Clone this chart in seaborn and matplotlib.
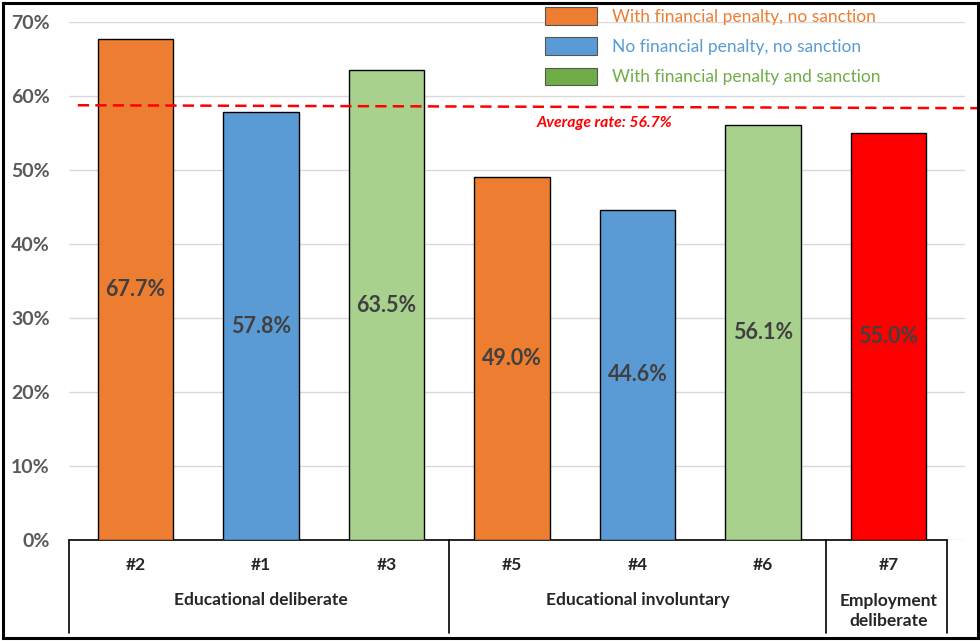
import matplotlib
matplotlib.use("Agg")
import matplotlib.pyplot as plt
import matplotlib.patches as mpatches
import matplotlib.transforms as mtrans
import seaborn as sns
import pandas as pd

# data
labels = ["#2", "#1", "#3", "#5", "#4", "#6", "#7"]
rates = [67.7, 57.8, 63.5, 49.0, 44.6, 56.1, 55.0]
kinds = ["penalty", "none", "sanction", "penalty", "none", "sanction", "employment"]
groups = ["Educational deliberate", "Educational involuntary", "Employment\ndeliberate"]
group_centers = [1, 4, 6]
group_edges = [2.5, 5.5]
avg_label = "Average rate: 56.7%"
avg_line = [58.75, 58.35]
legend_labels = ["With financial penalty, no sanction",
                 "No financial penalty, no sanction",
                 "With financial penalty and sanction"]

bar_colors = {"penalty": "#ED7D31", "none": "#5B9BD5", "sanction": "#A9D18E", "employment": "#FF0000"}
legend_colors = ["#ED7D31", "#5B9BD5", "#70AD47"]

df = pd.DataFrame({"label": labels, "rate": rates, "kind": kinds})

sns.set_style("white")
plt.rcParams["font.family"] = ["Lato", "DejaVu Sans"]

fig = plt.figure(figsize=(9.8, 6.41), dpi=100)
ax = fig.add_axes([69 / 980, 101 / 641, 896 / 980, 518 / 641])

sns.barplot(data=df, x="label", y="rate", hue="kind", palette=bar_colors, order=labels,
            dodge=False, width=0.6, saturation=1, edgecolor="black", linewidth=1,
            legend=False, ax=ax, zorder=3)

ax.set_xlim(-0.53, 6.61)
ax.set_ylim(0, 70)
ax.set_yticks(range(0, 71, 10))
ax.set_yticklabels([f"{v}%" for v in range(0, 71, 10)], fontsize=14, fontweight="bold", color="#595959")
ax.tick_params(axis="y", length=0, pad=14)
ax.set_xticks([])
ax.set_xlabel("")
ax.set_ylabel("")
ax.grid(axis="y", color="#D9D9D9", linewidth=1)
ax.set_axisbelow(True)
for s in ["left", "right", "top", "bottom"]:
    ax.spines[s].set_visible(False)

# value labels at bar mid-height
for i, v in enumerate(rates):
    ax.text(i, v / 2, f"{v:.1f}%", ha="center", va="center", fontsize=15.5,
            fontweight="bold", color="#404040", zorder=5)

# average line
ax.plot([-0.46, 6.8], avg_line, color="red", lw=1.8, dashes=(4.5, 2.5), clip_on=False, zorder=4)
ax.text(3.2, 56.4, avg_label, color="red", fontsize=11.3, fontweight="bold",
        fontstyle="italic", ha="left", va="center")

# category table below the axis
tr = mtrans.blended_transform_factory(ax.transData, ax.transAxes)
ax.plot([-0.53, 6.47], [0, 0], color="black", lw=1.2, transform=tr, clip_on=False)
for xe in [-0.53] + group_edges + [6.47]:
    ax.plot([xe, xe], [0, -0.18], color="black", lw=1.2, transform=tr, clip_on=False)
for i, lab in enumerate(labels):
    ax.text(i, -0.048, lab, ha="center", va="center", fontsize=12.5, fontweight="bold",
            transform=tr)
for xc, g in zip(group_centers, groups):
    ax.text(xc, -0.116 if "\n" not in g else -0.137, g, ha="center", va="center",
            fontsize=12.5, fontweight="bold", transform=tr, linespacing=1.35)

# legend
handles = [mpatches.Patch(facecolor=c, edgecolor="#555555", linewidth=0.8) for c in legend_colors]
ax.legend(handles, legend_labels, loc="upper left", bbox_to_anchor=(545 / 980, 634 / 641),
          bbox_transform=fig.transFigure, frameon=False, fontsize=12.5, labelcolor=legend_colors,
          handlelength=3.0, handleheight=1.2, handletextpad=0.85, labelspacing=0.72,
          borderpad=0, borderaxespad=0)

# outer border
fig.patches.append(mpatches.Rectangle((2.5 / 980, 3 / 641), 975 / 980, 635 / 641, fill=False,
                                      edgecolor="black", linewidth=2.2, transform=fig.transFigure))

fig.savefig("out.png", dpi=100)
